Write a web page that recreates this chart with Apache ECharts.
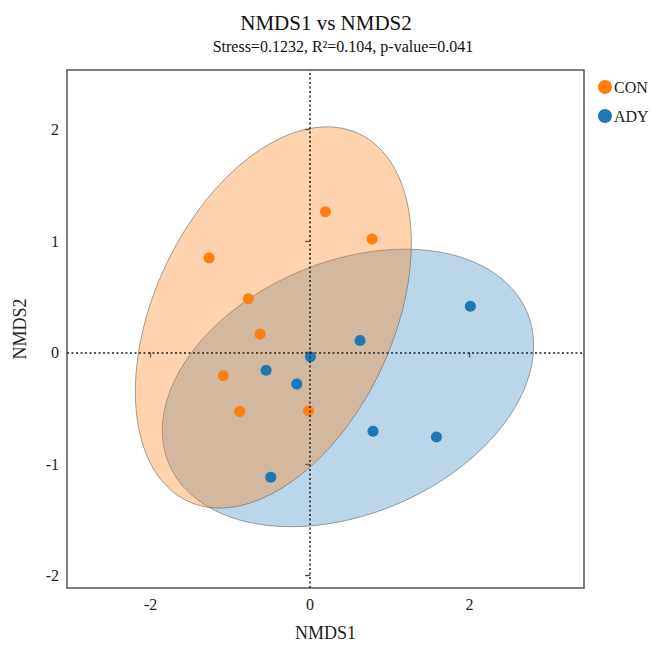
<!DOCTYPE html>
<html>
<head>
<meta charset="utf-8">
<script src="https://cdn.jsdelivr.net/npm/echarts@6/dist/echarts.min.js"></script>
<style>html,body{margin:0;padding:0;background:#fff}#chart{width:653px;height:647px}</style>
</head>
<body>
<div id="chart"></div>
<script>
// ---- data ----
const groupNames = ['CON', 'ADY'];
const conX = [-1.267, 0.192, 0.778, -0.774, -0.627, -1.088, -0.882, -0.019];
const conY = [0.848, 1.262, 1.018, 0.483, 0.167, -0.209, -0.528, -0.524];
const adyX = [2.011, 0.627, 0.004, -0.552, -0.167, 0.790, 1.585, -0.493];
const adyY = [0.415, 0.107, -0.038, -0.159, -0.282, -0.707, -0.758, -1.119];
const xTicks = [-2, 0, 2];
const yTicks = [-2, -1, 0, 1, 2];
const xRange = [-3.05, 3.437];
const yRange = [-2.112, 2.534];
const chi2Level95 = 5.991; // chi-square quantile, 2 df, 95% confidence ellipse
const titleText = 'NMDS1 vs NMDS2';
const subtitleText = 'Stress=0.1232, R\u00B2=0.104, p-value=0.041';

// ---- helpers ----
function zip(xs, ys) { return xs.map((x, i) => [x, ys[i]]); }
function ellipsePoints(xs, ys, chi2, n) {
  const N = xs.length;
  const mx = xs.reduce((a, b) => a + b, 0) / N;
  const my = ys.reduce((a, b) => a + b, 0) / N;
  let sxx = 0, syy = 0, sxy = 0;
  for (let i = 0; i < N; i++) {
    const dx = xs[i] - mx, dy = ys[i] - my;
    sxx += dx * dx; syy += dy * dy; sxy += dx * dy;
  }
  sxx /= (N - 1); syy /= (N - 1); sxy /= (N - 1);
  const l11 = Math.sqrt(sxx), l21 = sxy / l11, l22 = Math.sqrt(syy - l21 * l21);
  const r = Math.sqrt(chi2);
  const pts = [];
  for (let k = 0; k < n; k++) {
    const t = 2 * Math.PI * k / n;
    const u = Math.cos(t), v = Math.sin(t);
    pts.push([mx + r * l11 * u, my + r * (l21 * u + l22 * v)]);
  }
  return { center: [mx, my], pts };
}

const serif = 'Liberation Serif, Times New Roman, serif';
const conColor = '#FF7F0E', adyColor = '#1F77B4';
const conE = ellipsePoints(conX, conY, chi2Level95, 180);
const adyE = ellipsePoints(adyX, adyY, chi2Level95, 180);

function ellipseSeries(name, e, fill) {
  return {
    type: 'custom', name: name + '_ellipse', z: 1, silent: true,
    data: [e.center],
    renderItem: function (params, api) {
      return {
        type: 'polygon',
        shape: { points: e.pts.map(p => api.coord(p)) },
        style: { fill: fill, stroke: 'rgba(110,110,110,0.65)', lineWidth: 1 }
      };
    }
  };
}

const chart = echarts.init(document.getElementById('chart'), null, { renderer: 'svg' });
chart.setOption({
  animation: false,
  backgroundColor: '#fff',
  graphic: [
    { type: 'text', x: 326, y: 23, style: { text: titleText, fill: '#111', font: '21px ' + serif, textAlign: 'center', textVerticalAlign: 'middle' } },
    { type: 'text', x: 343, y: 46, style: { text: subtitleText, fill: '#111', font: '16px ' + serif, textAlign: 'center', textVerticalAlign: 'middle' } }
  ],
  legend: {
    data: groupNames, orient: 'vertical', left: 598, top: 79, icon: 'circle',
    itemWidth: 14, itemHeight: 14, itemGap: 13, padding: 0,
    textStyle: { fontFamily: serif, fontSize: 16, color: '#222', padding: [0, 0, 0, -3] }
  },
  grid: { left: 67, right: 69, top: 70, bottom: 58, show: true, borderColor: '#555', borderWidth: 1.5, backgroundColor: 'transparent' },
  xAxis: {
    type: 'value', min: xRange[0], max: xRange[1],
    name: 'NMDS1', nameLocation: 'middle', nameGap: 36,
    nameTextStyle: { fontFamily: serif, fontSize: 18, color: '#222' },
    axisLine: { show: false },
    axisTick: { show: true, length: 5, customValues: xTicks, lineStyle: { color: '#444', width: 1.4 } },
    axisLabel: { customValues: xTicks, fontFamily: serif, fontSize: 16, color: '#222', margin: 8 },
    splitLine: { show: false }
  },
  yAxis: {
    type: 'value', min: yRange[0], max: yRange[1],
    name: 'NMDS2', nameLocation: 'middle', nameGap: 38,
    nameTextStyle: { fontFamily: serif, fontSize: 18, color: '#222' },
    axisLine: { show: false },
    axisTick: { show: true, length: 5, customValues: yTicks, lineStyle: { color: '#444', width: 1.4 } },
    axisLabel: { customValues: yTicks, fontFamily: serif, fontSize: 16, color: '#222', margin: 8 },
    splitLine: { show: false }
  },
  series: [
    ellipseSeries('ADY', adyE, 'rgba(31,119,180,0.30)'),
    ellipseSeries('CON', conE, 'rgba(255,127,14,0.34)'),
    {
      type: 'line', name: 'zero', z: 2, data: [[0, 0]], showSymbol: false, silent: true,
      lineStyle: { opacity: 0 },
      markLine: {
        silent: true, symbol: 'none', label: { show: false }, animation: false,
        lineStyle: { color: '#222', type: [2, 2.5], width: 1.5 },
        data: [{ xAxis: 0 }, { yAxis: 0 }]
      }
    },
    { type: 'scatter', name: 'CON', z: 3, data: zip(conX, conY), symbolSize: 11, itemStyle: { color: conColor, opacity: 1 } },
    { type: 'scatter', name: 'ADY', z: 3, data: zip(adyX, adyY), symbolSize: 11, itemStyle: { color: adyColor, opacity: 1 } }
  ]
});
</script>
</body>
</html>
